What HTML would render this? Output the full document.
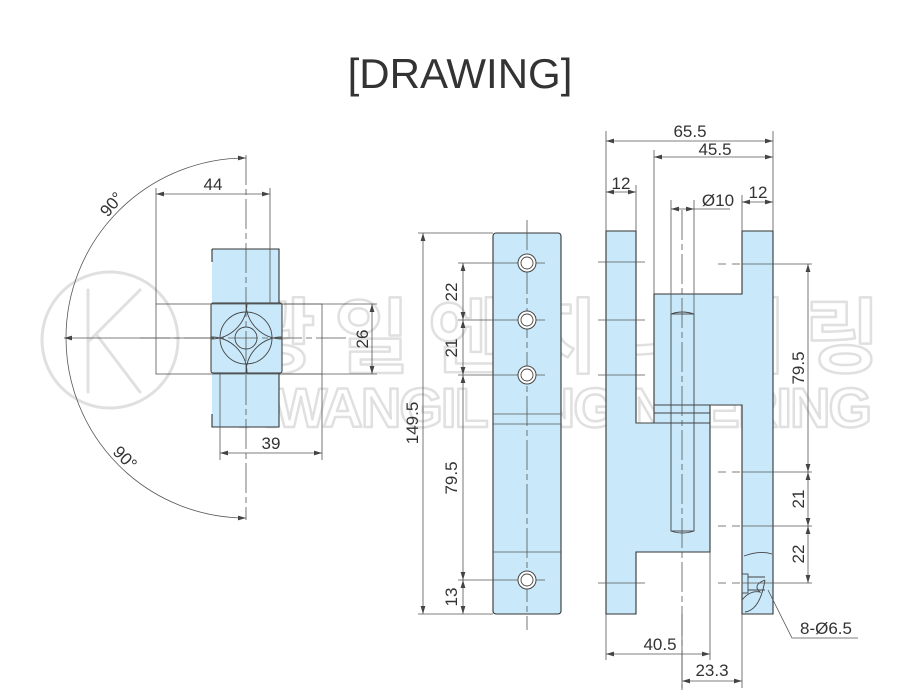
<!DOCTYPE html>
<html><head><meta charset="utf-8">
<style>
html,body{margin:0;padding:0;background:#fff;}
svg{display:block;}
text{font-family:"Liberation Sans","Noto Sans CJK KR",sans-serif;fill:#333;}
</style></head>
<body>
<svg width="921" height="700" viewBox="0 0 921 700" xmlns="http://www.w3.org/2000/svg">
<defs>
<marker id="a" viewBox="0 0 10 6" refX="10" refY="3" markerWidth="8" markerHeight="5" orient="auto-start-reverse" markerUnits="userSpaceOnUse">
<path d="M0,0 L10,3 L0,6 z" fill="#444"/></marker>
<clipPath id="band"><rect x="211" y="303" width="71" height="70"/></clipPath>
</defs>

<!-- title -->
<text x="460" y="88" font-size="42" text-anchor="middle" style="font-weight:300">[DRAWING]</text>

<!-- watermark -->
<g fill="none" stroke="#e0e0e0" stroke-width="3" stroke-linejoin="round" stroke-linecap="round">
<circle cx="110" cy="340" r="68"/>
<path d="M88,290 V392 M88,342 L140,290 M96,334 L140,392"/>
</g>
<text x="240" y="366" font-size="82" stroke="#e0e0e0" stroke-width="2.5" stroke-linejoin="round" style="fill:none;font-weight:bold" textLength="640">광일엔지니어링</text>
<text x="236" y="427" font-size="56" stroke="#e0e0e0" stroke-width="2.5" stroke-linejoin="round" style="fill:none;font-weight:bold" textLength="636">KWANGIL ENGINEERING</text>

<!-- ========== LEFT VIEW ========== -->
<path d="M246,158 A180,180 0 0 0 246,518" fill="none" stroke="#555" stroke-width="0.8" marker-start="url(#a)" marker-end="url(#a)"/>
<path d="M64,338 L246,338" stroke="#555" stroke-width="0.8" marker-start="url(#a)"/>
<rect x="212" y="249" width="67" height="178" fill="#c9e9fb" stroke="none"/>
<rect x="211" y="303" width="71" height="70" rx="2" fill="#c9e9fb" stroke="#333" stroke-width="1"/>
<g stroke="#333" stroke-width="1.1" fill="none">
<path d="M212,249 H279 V303 M212,249 V262 M212,414 V427 H279 V373"/>
</g>
<g clip-path="url(#band)" stroke="#444" stroke-width="0.9" fill="none">
<circle cx="211" cy="303" r="36"/><circle cx="282" cy="303" r="36"/>
<circle cx="211" cy="373" r="36"/><circle cx="282" cy="373" r="36"/>
</g>
<g stroke="#444" stroke-width="0.9" fill="none">
<circle cx="246" cy="338" r="26"/>
<circle cx="246" cy="338" r="11"/>
</g>
<g stroke="#555" stroke-width="0.8" fill="none">
<rect x="156" y="304" width="166" height="70"/>
<path d="M246,155 V520" stroke-dasharray="30,4,6,4"/>
<path d="M140,338 H350" stroke-dasharray="30,4,6,4"/>
<path d="M156,188 V304 M270,188 V304"/>
<path d="M220,374 V460 M322,374 V460"/>
<path d="M282,304 H377 M282,374 H377"/>
</g>
<path d="M156,194 H270" stroke="#555" stroke-width="0.8" marker-start="url(#a)" marker-end="url(#a)"/>
<path d="M220,453 H322" stroke="#555" stroke-width="0.8" marker-start="url(#a)" marker-end="url(#a)"/>
<path d="M372,304 V374" stroke="#555" stroke-width="0.8" marker-start="url(#a)" marker-end="url(#a)"/>
<text x="213" y="190" font-size="17" text-anchor="middle">44</text>
<text x="271" y="449" font-size="17" text-anchor="middle">39</text>
<text x="0" y="0" font-size="17" text-anchor="middle" transform="translate(368,339) rotate(-90)">26</text>
<text x="0" y="0" font-size="17" text-anchor="middle" transform="translate(116,208) rotate(-50)">90°</text>
<text x="0" y="0" font-size="17" text-anchor="middle" transform="translate(121,462) rotate(45)">90°</text>

<!-- ========== MIDDLE VIEW ========== -->
<rect x="493" y="233" width="68" height="381" rx="3" fill="#c9e9fb" stroke="#333" stroke-width="1.1"/>
<g stroke="#555" stroke-width="0.8" fill="none">
<path d="M493,414 H561 M493,424 H561 M493,552 H561"/>
<path d="M527,220 V630" stroke-dasharray="30,4,6,4"/>
<path d="M418,233 H493 M418,614 H493"/>
<path d="M458,263 H545 M458,320 H545 M458,375 H545 M458,580 H545"/>
</g>
<g fill="#fff" stroke="#444" stroke-width="1">
<circle cx="527" cy="263" r="9"/><circle cx="527" cy="320" r="9"/>
<circle cx="527" cy="375" r="9"/><circle cx="527" cy="580" r="9"/>
</g>
<g fill="none" stroke="#444" stroke-width="0.9">
<circle cx="527" cy="263" r="6"/><circle cx="527" cy="320" r="6"/>
<circle cx="527" cy="375" r="6"/><circle cx="527" cy="580" r="6"/>
</g>
<g stroke="#555" stroke-width="0.8">
<path d="M423,233 V614" marker-start="url(#a)" marker-end="url(#a)"/>
<path d="M463,263 V320" marker-start="url(#a)" marker-end="url(#a)"/>
<path d="M463,320 V375" marker-start="url(#a)" marker-end="url(#a)"/>
<path d="M463,375 V580" marker-start="url(#a)" marker-end="url(#a)"/>
<path d="M463,580 V614" marker-start="url(#a)" marker-end="url(#a)"/>
</g>
<g font-size="17" text-anchor="middle">
<text transform="translate(418,423) rotate(-90)">149.5</text>
<text transform="translate(457,292) rotate(-90)">22</text>
<text transform="translate(457,348) rotate(-90)">21</text>
<text transform="translate(457,478) rotate(-90)">79.5</text>
<text transform="translate(457,597) rotate(-90)">13</text>
</g>

<!-- ========== RIGHT VIEW ========== -->
<path d="M606,231 H636 V423 H654 V294 H742 V231 H773 V614 H742 V405 H710 V552 H636 V614 H606 Z" fill="#c9e9fb" stroke="#333" stroke-width="1.1"/>
<g stroke="#444" stroke-width="0.9" fill="none">
<path d="M654,405 V423 M654,413 H710 M654,405 H742 M636,423 H710"/>
<rect x="671" y="314" width="23" height="217"/>
<path d="M671,314 Q682,310 694,314 M671,531 Q682,535 694,531"/>
<path d="M742,600 Q750,590 760,592 Q752,585 765,580 M744,556 Q760,550 772,554 M765,580 Q760,610 745,612"/>
<rect x="742" y="574" width="6" height="19"/>
<path d="M748,577 H765 M748,590 H765"/>
</g>
<g stroke="#555" stroke-width="0.8" fill="none">
<path d="M682,210 V690" stroke-dasharray="30,4,6,4"/>
<path d="M606,131 V231 M773,131 V231 M654,150 V294 M636,185 V231 M742,195 V231 M671,200 V314 M694,200 V314"/>
<path d="M606,614 V660 M710,552 V660 M742,614 V688 M682,614 V688"/>
<path d="M598,262 H645 M598,320 H645 M598,375 H645 M598,583 H645"/>
<path d="M718,264 H742 M718,472 H742 M718,526 H742 M718,583 H742" stroke-dasharray="8,6"/>
<path d="M742,264 H812 M742,472 H812 M742,526 H812 M742,583 H812"/>
<path d="M694,209 H730"/>
<path d="M768,590 L792,638 H858"/>
</g>
<g stroke="#555" stroke-width="0.8">
<path d="M606,141 H773" marker-start="url(#a)" marker-end="url(#a)"/>
<path d="M654,157 H773" marker-start="url(#a)" marker-end="url(#a)"/>
<path d="M606,192 H636" marker-start="url(#a)" marker-end="url(#a)"/>
<path d="M742,202 H773" marker-start="url(#a)" marker-end="url(#a)"/>
<path d="M671,209 H694" marker-start="url(#a)" marker-end="url(#a)"/>
<path d="M808,264 V472" marker-start="url(#a)" marker-end="url(#a)"/>
<path d="M808,472 V526" marker-start="url(#a)" marker-end="url(#a)"/>
<path d="M808,526 V583" marker-start="url(#a)" marker-end="url(#a)"/>
<path d="M606,654 H710" marker-start="url(#a)" marker-end="url(#a)"/>
<path d="M682,681 H742" marker-start="url(#a)" marker-end="url(#a)"/>
</g>
<g font-size="17" text-anchor="middle">
<text x="690" y="137">65.5</text>
<text x="715" y="155">45.5</text>
<text x="621" y="189">12</text>
<text x="758" y="198">12</text>
<text x="718" y="206">Ø10</text>
<text transform="translate(804,368) rotate(-90)">79.5</text>
<text transform="translate(804,499) rotate(-90)">21</text>
<text transform="translate(804,554) rotate(-90)">22</text>
<text x="660" y="650">40.5</text>
<text x="712" y="676">23.3</text>
<text x="826" y="634">8-Ø6.5</text>
</g>
</svg>
</body></html>
